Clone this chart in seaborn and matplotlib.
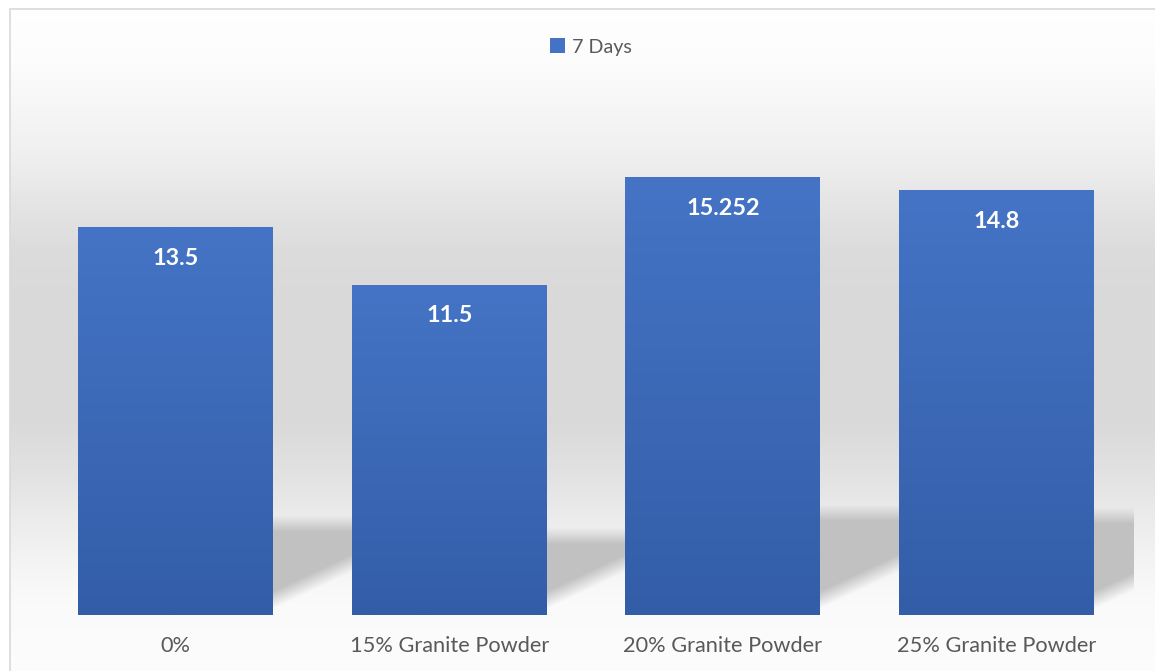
import numpy as np
import pandas as pd
import matplotlib
matplotlib.use("Agg")
import matplotlib.pyplot as plt
import seaborn as sns
from matplotlib.patches import Rectangle, Patch
from matplotlib.colors import to_rgb

categories = ["0%", "15% Granite Powder", "20% Granite Powder", "25% Granite Powder"]
values = [13.5, 11.5, 15.252, 14.8]
value_labels = ["13.5", "11.5", "15.252", "14.8"]
series_name = "7 Days"

sns.set_theme(style="white")
plt.rcParams["font.family"] = ["Lato", "DejaVu Sans"]

W, H = 1155, 671
fig = plt.figure(figsize=(W / 100, H / 100), dpi=100)
fig.patch.set_facecolor("white")

# background gradient panel
bg = fig.add_axes([10 / W, 0, 1 - 10 / W, 1 - 9 / H], zorder=-10)
stops_px = [9, 60, 100, 160, 200, 250, 300, 420, 480, 520, 560, 600, 671]
stops_gray = [0.998, 0.99, 0.97, 0.935, 0.90, 0.862, 0.852, 0.852, 0.89, 0.925, 0.955, 0.98, 0.99]
ys = np.arange(9, 672)
gvals = np.interp(ys, stops_px, stops_gray)
img = np.repeat(gvals[:, None], 2, axis=1)
bg.imshow(np.dstack([img, img, img]), aspect="auto", extent=[0, 1, 0, 1], interpolation="bilinear")
bg.set_axis_off()
fig.patches.append(Rectangle((9.5 / W, -0.01), 1.0, 1 - 9 / H + 0.01, transform=fig.transFigure,
                             fill=False, edgecolor="#d9d9d9", linewidth=1.2, zorder=-5))

ax = fig.add_axes([38.6 / W, 1 - 615 / H, (1133.5 - 38.6) / W, (615 - 98) / H])
ax.patch.set_alpha(0)
df = pd.DataFrame({"cat": categories, "val": values})
sns.barplot(data=df, x="cat", y="val", color="#4472C4", width=0.712, ax=ax, saturation=1,
            zorder=3, linewidth=0, edgecolor="none")
YMAX = 18
ax.set_ylim(0, YMAX)
ax.set_xlim(-0.5, len(categories) - 0.5)

top_c = np.array(to_rgb("#4574C6"))
bot_c = np.array(to_rgb("#335DA7"))
grad = np.linspace(0, 1, 256)[:, None]
bar_img = top_c[None, None, :] * (1 - grad[..., None]) + bot_c[None, None, :] * grad[..., None]
bar_img = np.repeat(bar_img, 2, axis=1)

ax_h_px = 615 - 98
ax_w_px = 1133.5 - 38.6
ypx = ax_h_px / YMAX
xpx = ax_w_px / len(categories)

for p, v, lab in zip(ax.patches, values, value_labels):
    x0 = p.get_x()
    w = p.get_width()
    R = x0 + w
    # soft perspective shadow to the right of the bar base
    bar_px = v * ypx
    Hd = 0.215 * bar_px
    Wpx, Hpx = 220, int(Hd + 22)
    xs = np.arange(Wpx) + 0.5
    yy = np.arange(Hpx) + 0.5
    X, Y = np.meshgrid(xs, yy)
    line = 15 + 0.47 * X
    a_diag = np.clip((Y - line) / 18 + 0.5, 0, 1)
    a_top = np.clip((Hd + 16 - Y) / 16, 0, 1)
    alpha = a_diag * a_top
    sh = np.zeros((Hpx, Wpx, 4))
    sh[..., :3] = 0.76
    sh[..., 3] = alpha
    ax.imshow(sh, extent=[R, R + Wpx / xpx, 0, Hpx / ypx], origin="lower", aspect="auto",
              zorder=1, interpolation="bilinear")
    # gradient fill
    im = ax.imshow(bar_img, extent=[x0, R, 0, v], aspect="auto", zorder=3.5,
                   interpolation="bilinear")
    im.set_clip_path(p)
    ax.annotate(lab, (x0 + w / 2, v), xytext=(0, -22.5), textcoords="offset points",
                ha="center", va="center", color="white", fontsize=16.8, fontweight="bold", zorder=5)

ax.set_aspect("auto")
ax.set_xlim(-0.5, len(categories) - 0.5)
ax.set_ylim(0, YMAX)
ax.set_xlabel("")
ax.set_ylabel("")
ax.set_yticks([])
for s in ax.spines.values():
    s.set_visible(False)
ax.tick_params(axis="x", length=0, pad=15, labelsize=15.7, labelcolor="#595959")

fig.legend(handles=[Patch(facecolor="#4472C4", edgecolor="none", label=series_name)],
           loc="center", bbox_to_anchor=(591 / W, 1 - 47 / H), frameon=False,
           fontsize=14.2, labelcolor="#595959", handlelength=0.75, handleheight=0.75,
           handletextpad=0.35)

fig.savefig("out.png", dpi=100)
